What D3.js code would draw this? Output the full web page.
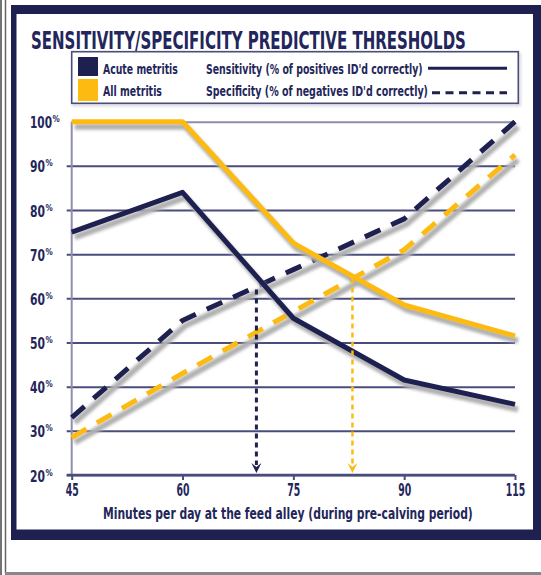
<!DOCTYPE html>
<html>
<head>
<meta charset="utf-8">
<script src="https://cdn.jsdelivr.net/npm/d3@7"></script>
<style>
  html, body { margin: 0; padding: 0; background: #fff; }
  svg { display: block; }
  text { font-family: "Liberation Sans Narrow", "DejaVu Sans Condensed", "Roboto", sans-serif; font-weight: bold; fill: #23265a; }
</style>
</head>
<body>
<svg id="chart" width="541" height="575"></svg>
<script>
// ---- Data ----
const minutes = [45, 60, 75, 90, 115];
const acuteSensitivity = [75, 84, 55.5, 41.5, 36];
const allSensitivity = [100, 100, 72.5, 58.5, 51.5];
const acuteSpecificity = [33, 55, 66.5, 78, 100];
const allSpecificity = [28.5, 43, 57, 71, 92.5];
const yTicks = [20, 30, 40, 50, 60, 70, 80, 90, 100];
const thresholdMinutes = [70, 83];
const thresholdValues = [62, 64.5];
const groups = ["Acute metritis", "All metritis"];
const measures = ["Sensitivity (% of positives ID'd correctly)", "Specificity (% of negatives ID'd correctly)"];
const titleText = "SENSITIVITY/SPECIFICITY PREDICTIVE THRESHOLDS";
const xTitle = "Minutes per day at the feed alley (during pre-calving period)";

const NAVY = "#1e2050";
const YELLOW = "#fdbb12";
const GRID = "#4a4d7c";
const LIGHTGRID = "#8c8eab";

const svg = d3.select("#chart");

// squeeze a text horizontally so that it spans exactly w pixels from x
function fitText(sel, x, y, w) {
  sel.attr("x", 0).attr("y", 0);
  const n = sel.node().getComputedTextLength();
  sel.attr("transform", `translate(${x},${y}) scale(${w / n},1)`);
  return sel;
}

// ---- Frame ----
svg.append("line").attr("x1", 1).attr("x2", 1).attr("y1", 0).attr("y2", 575).attr("stroke", "#444").attr("stroke-width", 1.5);
svg.append("line").attr("x1", 5.5).attr("x2", 5.5).attr("y1", 0).attr("y2", 573).attr("stroke", "#666").attr("stroke-width", 1.5);
svg.append("line").attr("x1", 5).attr("x2", 541).attr("y1", 573.5).attr("y2", 573.5).attr("stroke", "#888").attr("stroke-width", 3);
svg.append("rect").attr("x", 11).attr("y", 5).attr("width", 540).attr("height", 535).attr("fill", NAVY);
svg.append("rect").attr("x", 16.5).attr("y", 14).attr("width", 516.5).attr("height", 515.5).attr("fill", "#fff");

// ---- Filters ----
const defs = svg.append("defs");
defs.append("filter").attr("id", "blur").attr("x", "-10%").attr("y", "-10%").attr("width", "120%").attr("height", "120%")
  .append("feGaussianBlur").attr("stdDeviation", 1.7);

// ---- Title ----
fitText(svg.append("text").attr("font-size", 24).text(titleText), 31, 48.5, 435);

// ---- Legend ----
const lg = svg.append("g");
lg.append("rect").attr("x", 73.5).attr("y", 54).attr("width", 446).attr("height", 51)
  .attr("fill", "none").attr("stroke", "#c8c8d0").attr("stroke-width", 2).attr("filter", "url(#blur)");
lg.append("rect").attr("x", 71.7).attr("y", 51.7).attr("width", 446.6).attr("height", 51.6)
  .attr("fill", "#fff").attr("stroke", GRID).attr("stroke-width", 1.6);
const swatchColors = [NAVY, YELLOW];
const swatchY = [57, 79];
const swatchH = [19, 22];
const rowBase = [74, 95.5];
groups.forEach((g, i) => {
  lg.append("rect").attr("x", 78).attr("y", swatchY[i]).attr("width", 20).attr("height", swatchH[i]).attr("fill", swatchColors[i]);
  fitText(lg.append("text").attr("font-size", 13.5).text(g), 103, rowBase[i], i === 0 ? 75 : 59);
});
measures.forEach((m, i) => {
  fitText(lg.append("text").attr("font-size", 13.5).text(m), 206, rowBase[i], i === 0 ? 217 : 222);
});
lg.append("line").attr("x1", 428).attr("x2", 507).attr("y1", 68.3).attr("y2", 68.3).attr("stroke", NAVY).attr("stroke-width", 3);
lg.append("line").attr("x1", 432).attr("x2", 507).attr("y1", 92.7).attr("y2", 92.7).attr("stroke", NAVY).attr("stroke-width", 3)
  .attr("stroke-dasharray", "8,5.5");

// ---- Scales ----
const xLeft = 71.7, xRight = 515;
const step = (xRight - xLeft) / (minutes.length - 1);
const x = d3.scaleLinear().domain(minutes).range(minutes.map((d, i) => xLeft + i * step));
const y = d3.scaleLinear().domain([20, 100]).range([475, 121.7]);

// ---- Grid (y axis) ----
const gridLeft = 66.7;
const yAxis = d3.axisLeft(y).tickValues(yTicks).tickSize(-(xRight - gridLeft)).tickFormat("");
const gy = svg.append("g").attr("transform", `translate(${gridLeft},0)`).call(yAxis);
gy.select(".domain").remove();
gy.selectAll(".tick line").attr("stroke", d => d === 100 ? LIGHTGRID : GRID).attr("stroke-width", 2)
  .attr("x1", d => d === 100 ? xLeft - gridLeft : 0);
svg.append("line").attr("x1", xLeft).attr("x2", xLeft).attr("y1", y(100)).attr("y2", y(20))
  .attr("stroke", LIGHTGRID).attr("stroke-width", 2);

// y labels: condensed number plus small raised %
const ylab = svg.append("g");
yTicks.forEach(v => {
  const w = v === 100 ? 22 : 15;
  fitText(ylab.append("text").attr("font-size", 16).text(v), 30, y(v) + 6.5, w);
  ylab.append("text").attr("x", 30 + w + 0.5).attr("y", y(v) + 0.5).attr("font-size", 8).text("%");
});

// ---- X axis ----
const xAxis = d3.axisBottom(x).tickValues(minutes).tickSize(5).tickFormat(d => d);
const gx = svg.append("g").attr("transform", "translate(0,475)").call(xAxis);
gx.select(".domain").remove();
gx.selectAll(".tick line").attr("stroke", GRID).attr("stroke-width", 2);
gx.selectAll(".tick text").each(function (d) {
  const t = d3.select(this).attr("font-size", 17).attr("fill", "#23265a")
    .attr("font-family", "Liberation Sans Narrow, DejaVu Sans Condensed, sans-serif").attr("font-weight", "bold")
    .attr("text-anchor", "start").attr("dy", null);
  const w = String(d).length * 6.5;
  fitText(t, -w / 2, 21, w);
});
gx.append("line").attr("x1", gridLeft).attr("x2", xRight).attr("y1", 0).attr("y2", 0)
  .attr("stroke", GRID).attr("stroke-width", 2.4);

fitText(svg.append("text").attr("font-size", 15.5).text(xTitle), 103, 518.5, 370);

// ---- Lines ----
const lineGen = d3.line().x((d, i) => x(minutes[i])).y(d => y(d));
const series = [
  { values: acuteSpecificity, color: NAVY, dash: "17,12" },
  { values: allSpecificity, color: YELLOW, dash: "17,12" },
  { values: acuteSensitivity, color: NAVY, dash: null },
  { values: allSensitivity, color: YELLOW, dash: null }
];
const lines = svg.append("g");
series.forEach(s => {
  lines.append("path").attr("d", lineGen(s.values)).attr("fill", "none")
    .attr("stroke", "#b0b0b0").attr("stroke-width", 6).attr("stroke-linejoin", "round")
    .attr("transform", "translate(3,5)").attr("filter", "url(#blur)");
  lines.append("path").attr("d", lineGen(s.values)).attr("fill", "none")
    .attr("stroke", s.color).attr("stroke-width", 5).attr("stroke-linejoin", "round")
    .attr("stroke-dasharray", s.dash);
});

// ---- Threshold arrows ----
const arrowColors = [NAVY, YELLOW];
const arrowWidths = [3, 2.5];
thresholdMinutes.forEach((m, i) => {
  const ax = x(m);
  const tipY = y(20) - 2;
  svg.append("line").attr("x1", ax).attr("x2", ax).attr("y1", y(thresholdValues[i])).attr("y2", tipY - 8)
    .attr("stroke", arrowColors[i]).attr("stroke-width", arrowWidths[i]).attr("stroke-dasharray", "5,4");
  svg.append("path")
    .attr("d", `M${ax - 5},${tipY - 10} L${ax},${tipY - 6} L${ax + 5},${tipY - 10} L${ax},${tipY} Z`)
    .attr("fill", arrowColors[i]);
});
</script>
</body>
</html>
